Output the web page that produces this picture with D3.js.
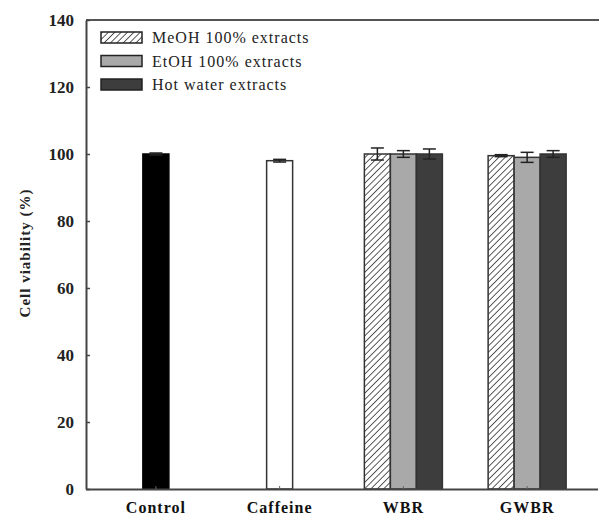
<!DOCTYPE html>
<html>
<head>
<meta charset="utf-8">
<script src="https://cdn.jsdelivr.net/npm/d3@7"></script>
<style>
  html, body { margin: 0; padding: 0; background: #fff; }
  svg { display: block; }
  text { font-family: "Liberation Serif", "Times New Roman", serif; }
</style>
</head>
<body>
<svg id="chart" width="599" height="518"></svg>
<script>
// ---- data ----
const categories = ["Control", "Caffeine", "WBR", "GWBR"];
const singleCategories = ["Control", "Caffeine"];
const singleValues = [100, 98];
const singleErrors = [0.3, 0.4];
const groupCategories = ["WBR", "GWBR"];
const seriesNames = ["MeOH 100% extracts", "EtOH 100% extracts", "Hot water extracts"];
const meohValues = [100, 99.5];
const meohErrors = [1.8, 0.3];
const etohValues = [100, 99];
const etohErrors = [1.0, 1.5];
const hotValues = [100, 100];
const hotErrors = [1.5, 1.0];
const yTicks = [0, 20, 40, 60, 80, 100, 120, 140];

// ---- layout ----
(function () {
const svg = d3.select("#chart");
const mLeft = 86, mRight = 599, mTop = 20, mBottom = 489;
const x = d3.scaleBand().domain(categories).range([94, 589]).paddingInner(0);
const y = d3.scaleLinear().domain([0, 140]).range([mBottom, mTop]);
const barW = 26;
const sub = d3.scaleBand().domain(seriesNames).range([-39, 39]);

const defs = svg.append("defs");
const pat = defs.append("pattern")
  .attr("id", "hatch").attr("patternUnits", "userSpaceOnUse")
  .attr("width", 4.5).attr("height", 4.5)
  .attr("patternTransform", "rotate(45)");
pat.append("rect").attr("width", 4.5).attr("height", 4.5).attr("fill", "#fff");
pat.append("line").attr("x1", 0).attr("y1", 0).attr("x2", 0).attr("y2", 4.5)
  .attr("stroke", "#333").attr("stroke-width", 1.6);

const seriesFill = ["url(#hatch)", "#a9a9a9", "#3d3d3d"];
const singleFill = ["#000", "#fff"];
const stroke = "#333";

// top frame line
svg.append("line").attr("x1", mLeft).attr("x2", mRight).attr("y1", mTop).attr("y2", mTop)
  .attr("stroke", "#555").attr("stroke-width", 2);

// single bars
singleCategories.forEach((c, i) => {
  const cx = x(c) + x.bandwidth() / 2;
  svg.append("rect")
    .attr("x", cx - barW / 2).attr("y", y(singleValues[i]))
    .attr("width", barW).attr("height", y(0) - y(singleValues[i]))
    .attr("fill", singleFill[i]).attr("stroke", i === 0 ? "#000" : stroke).attr("stroke-width", 1.5);
});

// grouped bars
const seriesValues = [meohValues, etohValues, hotValues];
const seriesErrors = [meohErrors, etohErrors, hotErrors];
groupCategories.forEach((c, gi) => {
  const cx = x(c) + x.bandwidth() / 2;
  seriesNames.forEach((s, si) => {
    const v = seriesValues[si][gi];
    svg.append("rect")
      .attr("x", cx + sub(s)).attr("y", y(v))
      .attr("width", sub.bandwidth()).attr("height", y(0) - y(v))
      .attr("fill", seriesFill[si]).attr("stroke", stroke).attr("stroke-width", 1.5);
  });
});

// error bars
function errBar(cx, v, e) {
  const g = svg.append("g").attr("stroke", "#222").attr("stroke-width", 1.5);
  g.append("line").attr("x1", cx).attr("x2", cx).attr("y1", y(v + e)).attr("y2", y(v - e));
  g.append("line").attr("x1", cx - 6.5).attr("x2", cx + 6.5).attr("y1", y(v + e)).attr("y2", y(v + e));
  g.append("line").attr("x1", cx - 6.5).attr("x2", cx + 6.5).attr("y1", y(v - e)).attr("y2", y(v - e));
}
singleCategories.forEach((c, i) => {
  errBar(x(c) + x.bandwidth() / 2, singleValues[i], singleErrors[i]);
});
groupCategories.forEach((c, gi) => {
  const cx = x(c) + x.bandwidth() / 2;
  seriesNames.forEach((s, si) => {
    errBar(cx + sub(s) + sub.bandwidth() / 2, seriesValues[si][gi], seriesErrors[si][gi]);
  });
});

// y axis
const yAxis = svg.append("g").attr("transform", `translate(${mLeft},0)`)
  .call(d3.axisLeft(y).tickValues(yTicks).tickSizeInner(-4).tickSizeOuter(0).tickPadding(12));
yAxis.select(".domain").attr("stroke", "#444").attr("stroke-width", 2);
yAxis.selectAll(".tick line").attr("stroke", "#444").attr("stroke-width", 1.5);
yAxis.selectAll(".tick text").attr("font-family", "Liberation Serif, serif")
  .attr("font-size", 17).attr("font-weight", "bold").attr("fill", "#222");

// x axis
const xAxis = svg.append("g").attr("transform", `translate(0,${mBottom})`)
  .call(d3.axisBottom(x).tickSizeInner(-3).tickSizeOuter(0).tickPadding(13));
xAxis.select(".domain").attr("d", `M${mLeft},0.5H${598}`).attr("stroke", "#444").attr("stroke-width", 2);
xAxis.selectAll(".tick line").attr("stroke", "#666").attr("stroke-width", 1);
xAxis.selectAll(".tick text").attr("font-family", "Liberation Serif, serif")
  .attr("font-size", 16).attr("font-weight", "bold").attr("fill", "#111")
  .attr("letter-spacing", 1);

// y axis title
svg.append("text")
  .attr("transform", `translate(30,253) rotate(-90)`)
  .attr("text-anchor", "middle")
  .attr("font-size", 15).attr("font-weight", "bold").attr("fill", "#222")
  .attr("letter-spacing", 1)
  .text("Cell viability (%)");

// legend
const legend = svg.append("g");
seriesNames.forEach((s, i) => {
  const ly = 32 + i * 23.5;
  legend.append("rect").attr("x", 101).attr("y", ly).attr("width", 41).attr("height", 11)
    .attr("fill", seriesFill[i]).attr("stroke", "#222").attr("stroke-width", 1.5);
  legend.append("text").attr("x", 152).attr("y", ly + 11)
    .attr("font-size", 16).attr("fill", "#222").attr("letter-spacing", 1)
    .text(s);
});
})();
</script>
</body>
</html>
